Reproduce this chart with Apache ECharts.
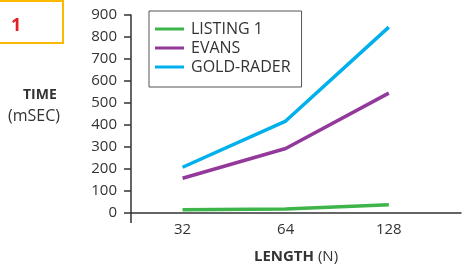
<!DOCTYPE html>
<html>
<head>
<meta charset="utf-8">
<script src="https://cdn.jsdelivr.net/npm/echarts@6/dist/echarts.min.js"></script>
<style>
  html, body { margin: 0; padding: 0; background: #fff; }
  #main { width: 464px; height: 269px; }
</style>
</head>
<body>
<div id="main"></div>
<script>
// 数据
let lengths = ['32', '64', '128']
let listing1 = [15, 18, 38]
let evans = [158, 293, 545]
let goldRader = [208, 418, 845]

let font = 'Open Sans'
let ink = '#333'

let toPoints = arr => arr.map((v, i) => [i + 1, v])

let myChart = echarts.init(document.getElementById('main'))

myChart.setOption({
    animation: false,
    textStyle: { fontFamily: font },
    grid: { left: 131, right: 0, top: 15, bottom: 55 },
    legend: {
        orient: 'vertical',
        left: 149,
        top: 11,
        padding: [10, 11, 12, 6],
        itemGap: 3,
        itemWidth: 29,
        itemHeight: 3,
        icon: 'rect',
        borderColor: '#555',
        borderWidth: 1,
        textStyle: { fontFamily: font, fontSize: 16, lineHeight: 16, color: ink, padding: [0, 0, 0, 2] },
        data: ['LISTING 1', 'EVANS', 'GOLD-RADER']
    },
    xAxis: [
        {
            type: 'value',
            min: 0.5,
            max: 3.7,
            interval: 0.5,
            splitLine: { show: false },
            axisLine: { lineStyle: { color: ink, width: 1.5 } },
            axisTick: { show: false },
            axisLabel: {
                color: ink,
                fontSize: 15,
                margin: 9,
                formatter: v => Number.isInteger(v) ? lengths[v - 1] : ''
            },
            name: '{b|LENGTH} (N)',
            nameLocation: 'middle',
            nameGap: 36,
            nameTextStyle: {
                color: ink,
                fontSize: 15,
                rich: { b: { fontWeight: 'bold', fontSize: 15, color: ink, fontFamily: font } }
            }
        },
        {
            // 只用来画出y轴下方的延长线
            type: 'value',
            position: 'bottom',
            min: 0.5,
            max: 3.7,
            splitLine: { show: false },
            axisLine: { show: false },
            axisLabel: { show: false },
            axisTick: { show: true, length: 10, customValues: [0.5], lineStyle: { color: ink, width: 1.5 } }
        }
    ],
    yAxis: {
        type: 'value',
        min: 0,
        max: 900,
        interval: 100,
        splitLine: { show: false },
        axisLine: { show: true, lineStyle: { color: ink, width: 1.5 } },
        axisTick: { show: true, length: 7, lineStyle: { color: ink, width: 1.5 } },
        axisLabel: { color: ink, fontSize: 15, margin: 14 }
    },
    graphic: [
        {
            type: 'rect',
            shape: { x: -3, y: 1, width: 66, height: 42 },
            style: { fill: 'none', stroke: '#fbb900', lineWidth: 2 }
        },
        {
            type: 'text',
            left: 11,
            top: 17,
            style: { text: '1', fill: '#e31e24', font: 'bold 18px "Open Sans"' }
        },
        {
            type: 'text',
            left: 23,
            top: 88,
            style: { text: 'TIME', fill: ink, font: 'bold 14px "Open Sans"' }
        },
        {
            type: 'text',
            left: 8,
            top: 108,
            style: { text: '(mSEC)', fill: ink, font: '16px "Open Sans"' }
        }
    ],
    series: [
        {
            name: 'LISTING 1',
            type: 'line',
            data: toPoints(listing1),
            symbol: 'none',
            color: '#3db54a',
            lineStyle: { width: 3.5 }
        },
        {
            name: 'EVANS',
            type: 'line',
            data: toPoints(evans),
            symbol: 'none',
            color: '#93399b',
            lineStyle: { width: 3.5 }
        },
        {
            name: 'GOLD-RADER',
            type: 'line',
            data: toPoints(goldRader),
            symbol: 'none',
            color: '#00b0ec',
            lineStyle: { width: 3.5 }
        }
    ]
})
</script>
</body>
</html>
